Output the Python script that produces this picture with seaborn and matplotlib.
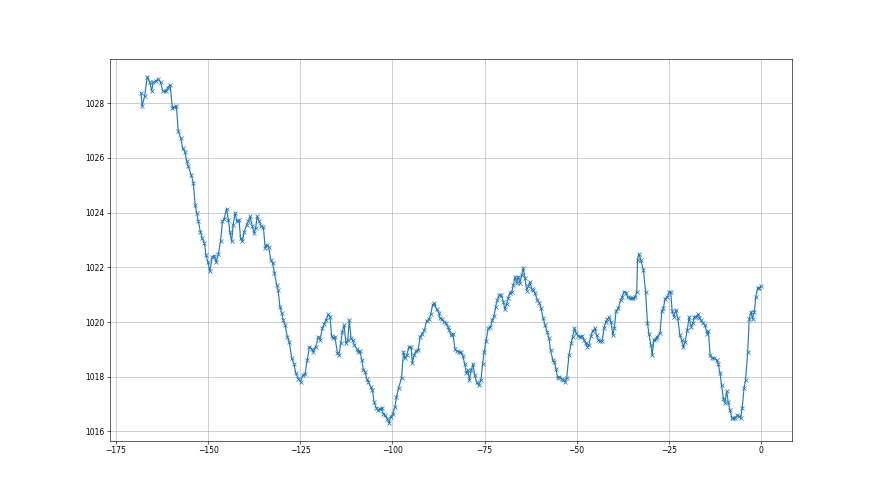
import numpy as np
import pandas as pd
import matplotlib
matplotlib.use('Agg')
import matplotlib.pyplot as plt
import seaborn as sns

# hours relative to now
hours = [
    -168.2, -167.9, -167.2, -166.5, -165.8, -165.3, -164.9, -164.2, -163.5, -162.9,
    -162.2, -161.5, -161.0, -160.3, -159.7, -159.2, -158.6, -158.1, -157.4, -156.9,
    -156.3, -155.8, -155.4, -154.6, -154.0, -153.5, -153.1, -152.7, -152.1, -151.6,
    -151.0, -150.6, -150.1, -149.5, -148.9, -148.3, -147.8, -147.2, -146.6, -146.1,
    -145.6, -145.0, -144.5, -144.1, -143.6, -143.2, -142.7, -142.2, -141.6, -141.2,
    -140.7, -140.2, -139.5, -139.1, -138.6, -138.0, -137.5, -137.1, -136.7, -136.1,
    -135.6, -135.0, -134.5, -134.1, -133.6, -133.0, -132.5, -132.0, -131.4, -131.0,
    -130.5, -130.0, -129.6, -129.1, -128.5, -128.0, -127.3, -126.7, -126.2, -125.5,
    -124.9, -124.3, -123.7, -123.1, -122.5, -121.9, -121.5, -120.8, -120.1, -119.6,
    -119.0, -118.5, -118.0, -117.4, -116.9, -116.5, -116.0, -115.6, -114.9, -114.5,
    -114.0, -113.6, -113.1, -112.6, -112.1, -111.7, -111.2, -110.8, -110.3, -109.7,
    -109.2, -108.8, -108.3, -107.9, -107.4, -107.0, -106.5, -105.9, -105.4, -105.0,
    -104.4, -103.9, -103.4, -102.9, -102.5, -102.0, -101.4, -100.9, -100.5, -99.9,
    -99.3, -98.9, -98.3, -97.5, -97.0, -96.6, -96.1, -95.5, -94.9, -94.6,
    -94.1, -93.6, -93.0, -92.5, -91.9, -91.3, -90.7, -90.1, -89.6, -89.1,
    -88.6, -88.0, -87.4, -87.1, -86.5, -86.0, -85.5, -85.0, -84.6, -84.1,
    -83.6, -83.0, -82.6, -81.9, -81.5, -80.9, -80.4, -79.9, -79.5, -79.1,
    -78.6, -78.1, -77.7, -77.1, -76.6, -76.0, -75.5, -75.1, -74.6, -74.0,
    -73.4, -72.9, -72.4, -72.0, -71.5, -71.0, -70.5, -69.9, -69.5, -69.0,
    -68.6, -68.1, -67.6, -67.2, -66.7, -66.3, -65.8, -65.4, -64.9, -64.5,
    -64.0, -63.6, -63.1, -62.7, -62.2, -61.8, -61.3, -60.7, -60.1, -59.7,
    -59.1, -58.6, -58.0, -57.5, -57.1, -56.5, -56.1, -55.6, -55.2, -54.7,
    -54.1, -53.6, -53.2, -52.7, -52.1, -51.5, -51.1, -50.6, -50.2, -49.6,
    -49.1, -48.5, -48.0, -47.6, -47.1, -46.7, -46.1, -45.7, -45.0, -44.6,
    -44.1, -43.7, -43.1, -42.6, -42.1, -41.7, -41.2, -40.7, -40.2, -39.8,
    -39.3, -38.7, -38.1, -37.6, -37.2, -36.6, -36.2, -35.5, -35.1, -34.6,
    -34.2, -33.7, -33.5, -33.1, -32.6, -31.9, -31.3, -30.8, -30.4, -29.9,
    -29.5, -29.1, -28.6, -28.1, -27.4, -26.9, -26.5, -26.0, -25.4, -25.0,
    -24.5, -24.1, -23.6, -23.1, -22.6, -22.0, -21.5, -21.1, -20.6, -20.0,
    -19.5, -19.0, -18.5, -18.1, -17.6, -17.2, -16.7, -16.3, -15.7, -15.2,
    -14.7, -14.3, -13.8, -13.2, -12.7, -12.0, -11.6, -11.1, -10.7, -10.2,
    -9.8, -9.3, -8.9, -8.4, -7.9, -7.5, -7.1, -6.4, -6.0, -5.5,
    -5.1, -4.6, -4.2, -3.6, -3.2, -2.7, -2.3, -1.8, -1.4, -0.9,
    -0.5, 0.0,
]

# pressure values (hPa)
pressure = [
    1028.39, 1027.90, 1028.27, 1028.97, 1028.76, 1028.45, 1028.76, 1028.82, 1028.88, 1028.76,
    1028.43, 1028.43, 1028.57, 1028.67, 1027.84, 1027.86, 1027.89, 1026.98, 1026.72, 1026.37,
    1026.23, 1025.88, 1025.70, 1025.39, 1025.09, 1024.27, 1023.99, 1023.71, 1023.31, 1023.07,
    1022.89, 1022.46, 1022.21, 1021.85, 1022.36, 1022.43, 1022.19, 1022.48, 1022.97, 1023.68,
    1023.78, 1024.15, 1023.74, 1023.31, 1022.95, 1023.56, 1023.99, 1023.68, 1023.74, 1023.07,
    1022.95, 1023.31, 1023.56, 1023.68, 1023.86, 1023.50, 1023.25, 1023.44, 1023.86, 1023.68,
    1023.50, 1023.46, 1022.70, 1022.83, 1022.76, 1022.28, 1022.15, 1021.79, 1021.36, 1021.17,
    1020.56, 1020.32, 1020.07, 1019.89, 1019.46, 1019.28, 1018.67, 1018.48, 1018.12, 1017.93,
    1017.81, 1018.06, 1018.09, 1018.61, 1019.09, 1019.03, 1018.91, 1019.09, 1019.46, 1019.36,
    1019.77, 1019.92, 1020.07, 1020.28, 1020.19, 1019.49, 1019.40, 1019.46, 1018.85, 1018.79,
    1019.22, 1019.64, 1019.89, 1019.22, 1019.34, 1020.07, 1019.40, 1019.34, 1019.16, 1019.03,
    1018.91, 1018.94, 1018.61, 1018.26, 1018.18, 1017.93, 1017.81, 1017.63, 1017.50, 1017.08,
    1016.87, 1016.77, 1016.83, 1016.87, 1016.65, 1016.59, 1016.47, 1016.30, 1016.52, 1016.65,
    1016.90, 1017.26, 1017.60, 1017.97, 1018.91, 1018.67, 1018.79, 1019.09, 1019.07, 1018.51,
    1018.79, 1018.94, 1018.97, 1019.46, 1019.58, 1019.71, 1020.05, 1020.10, 1020.29, 1020.62,
    1020.69, 1020.47, 1020.34, 1020.14, 1020.10, 1020.01, 1019.95, 1019.83, 1019.71, 1019.52,
    1019.58, 1019.00, 1018.94, 1018.91, 1018.90, 1018.76, 1018.48, 1018.12, 1018.24, 1017.87,
    1018.24, 1018.47, 1018.06, 1017.79, 1017.69, 1017.87, 1018.48, 1018.91, 1019.30, 1019.77,
    1019.82, 1020.07, 1020.22, 1020.56, 1020.81, 1020.99, 1020.99, 1020.75, 1020.47, 1020.66,
    1020.87, 1021.08, 1021.11, 1021.36, 1021.66, 1021.42, 1021.66, 1021.42, 1021.72, 1021.97,
    1021.60, 1021.15, 1021.30, 1021.48, 1021.20, 1021.17, 1021.05, 1020.81, 1020.69, 1020.50,
    1020.14, 1019.89, 1019.64, 1019.40, 1018.97, 1018.63, 1018.54, 1018.30, 1017.96, 1018.00,
    1017.93, 1017.87, 1017.81, 1017.97, 1018.79, 1019.22, 1019.46, 1019.77, 1019.61, 1019.49,
    1019.46, 1019.49, 1019.34, 1019.22, 1019.09, 1019.16, 1019.49, 1019.68, 1019.77, 1019.52,
    1019.34, 1019.30, 1019.31, 1019.77, 1020.01, 1020.10, 1020.17, 1020.01, 1019.52, 1019.77,
    1020.41, 1020.50, 1020.81, 1020.93, 1021.11, 1021.08, 1020.91, 1020.87, 1020.87, 1020.87,
    1020.90, 1021.11, 1022.28, 1022.49, 1022.27, 1021.90, 1021.10, 1019.96, 1019.58, 1019.17,
    1018.79, 1019.34, 1019.39, 1019.47, 1019.60, 1020.40, 1020.50, 1020.86, 1020.91, 1021.09,
    1021.09, 1020.40, 1020.19, 1020.44, 1020.16, 1019.52, 1019.34, 1019.09, 1019.28, 1019.71,
    1020.19, 1019.83, 1019.95, 1020.19, 1020.19, 1020.28, 1020.16, 1020.07, 1019.95, 1019.89,
    1019.58, 1019.67, 1018.79, 1018.67, 1018.67, 1018.61, 1018.48, 1018.12, 1017.69, 1017.20,
    1017.05, 1017.47, 1017.08, 1016.77, 1016.49, 1016.49, 1016.49, 1016.59, 1016.56, 1016.49,
    1016.86, 1017.59, 1017.87, 1018.91, 1020.11, 1020.38, 1020.11, 1020.38, 1020.93, 1021.24,
    1021.26, 1021.30,
]

df = pd.DataFrame({'hours': hours, 'pressure': pressure})

fig, ax = plt.subplots(figsize=(16, 9), dpi=55)

sns.lineplot(
    data=df,
    x='hours',
    y='pressure',
    ax=ax,
    color='#1f77b4',
    marker='x',
    markersize=6,
    markeredgecolor='#1f77b4',
    markeredgewidth=1.0,
    linewidth=1.5,
    estimator=None,
    sort=False
)

ax.set_xlabel('')
ax.set_ylabel('')
ax.set_xticks([-175, -150, -125, -100, -75, -50, -25, 0])
ax.set_yticks([1016, 1018, 1020, 1022, 1024, 1026, 1028])
ax.grid(True, color='#b0b0b0', linewidth=0.8)

fig.savefig('out.png', dpi=55)
